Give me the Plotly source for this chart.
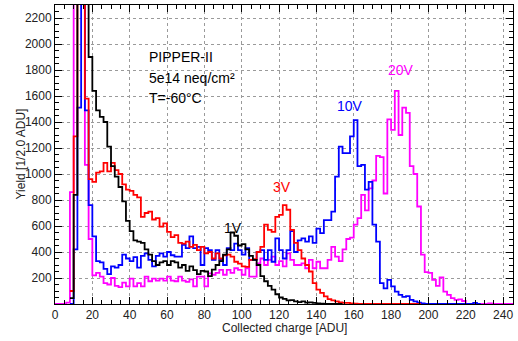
import plotly.graph_objects as go

## Data: histograms with 2 ADU bins, each list starts at its first bin edge

bin_width = 2

black_start = 8
black_1v = [45, 840, 3600, 4200, 3000, 1900, 1640, 1490, 1440, 1400, 1210, 1060,
            980, 900, 790, 640, 560, 490, 480, 470, 420, 380, 330, 300, 320, 330,
            300, 330, 320, 280, 300, 255, 290, 260, 230, 255, 250, 215, 265, 300,
            330, 380, 420, 550, 525, 450, 460, 420, 370, 340, 300, 215, 175, 140,
            110, 75, 50, 40, 28, 30, 20, 15, 20, 10, 12, 8, 5, 3, 0, 0, 0, 0, 0]

red_start = 8
red_3v = [100, 1290, 3500, 3800, 1580, 960, 940, 1010, 1020, 1085, 1020, 1085,
          1030, 1000, 920, 880, 870, 840, 820, 670, 700, 710, 650, 660, 595, 620,
          555, 515, 530, 470, 465, 480, 440, 455, 415, 440, 390, 400, 350, 390,
          350, 375, 380, 365, 325, 310, 290, 285, 340, 345, 400, 440, 610, 570,
          555, 670, 685, 760, 725, 570, 470, 415, 350, 300, 250, 160, 110, 85,
          58, 38, 28, 20, 13, 8, 8, 5, 3, 0, 0, 0, 0, 0, 0, 0, 0, 0, 0, 0, 0, 0, 0, 0, 0, 0]

blue_start = 8
blue_10v = [0, 420, 1510, 3200, 1490, 760, 520, 330, 320, 270, 230, 290, 280, 300,
            380, 350, 330, 360, 280, 370, 390, 340, 290, 370, 390, 365, 400, 375,
            365, 365, 455, 430, 520, 430, 440, 300, 430, 415, 340, 415, 340, 300,
            430, 415, 465, 415, 380, 430, 340, 340, 400, 415, 340, 415, 325, 505,
            415, 350, 415, 560, 400, 490, 505, 480, 520, 470, 580, 545, 645, 645,
            710, 980, 1210, 1160, 1160, 1290, 1415, 1060, 1070, 880, 940, 610, 480,
            160, 120, 185, 135, 95, 70, 55, 60, 32, 20, 10, 5, 0, 0, 0, 0, 0, 0, 0,
            0, 0, 0, 0, 0, 0, 8, 0]

magenta_start = 0
magenta_20v = [0, 0, 0, 10, 860, 3500, 3800, 3300, 1070, 500, 220, 240, 210, 160,
               150, 200, 140, 130, 165, 135, 195, 135, 160, 135, 210, 175, 195, 180,
               195, 180, 210, 180, 175, 210, 180, 170, 190, 135, 210, 210, 135, 236,
               225, 240, 262, 225, 262, 240, 275, 262, 225, 275, 210, 210, 313, 350,
               300, 340, 365, 300, 330, 290, 390, 340, 300, 300, 313, 275, 340, 275,
               325, 275, 275, 340, 440, 365, 330, 420, 500, 510, 610, 660, 840, 720,
               890, 950, 1140, 1130, 850, 1420, 1340, 1640, 1300, 1510, 1470, 1060,
               1000, 750, 380, 245, 240, 185, 140, 205, 95, 70, 45, 32, 36, 23, 0, 0,
               0, 0, 0, 0, 5, 0, 0, 0, 0, 0, 0]

x_ticks = list(range(0, 241, 20))
y_ticks = list(range(200, 2201, 200))

info_lines = ["PIPPER-II", "5e14 neq/cm²", "T=-60°C"]
info_y = [1900, 1738, 1585]

labels = ["1V", "3V", "10V", "20V"]
label_x = [95.5, 121.7, 158, 185.3]
label_y = [585, 900, 1523, 1800]
colors = ["black", "#ff0000", "#0000ff", "#ff00ff"]


def step_trace(start, values, color):
    edges = [start + bin_width * i for i in range(len(values) + 1)]
    return go.Scatter(x=edges, y=values + [values[-1]], mode="lines",
                      line=dict(color=color, width=1.8, shape="hv"),
                      showlegend=False, hoverinfo="skip")


def main():
    fig = go.Figure()
    # drawn back to front: magenta, blue, red, black
    fig.add_trace(step_trace(magenta_start, magenta_20v, colors[3]))
    fig.add_trace(step_trace(blue_start, blue_10v, colors[2]))
    fig.add_trace(step_trace(red_start, red_3v, colors[1]))
    fig.add_trace(step_trace(black_start, black_1v, colors[0]))

    axis_style = dict(showline=True, linecolor="black", linewidth=1, mirror="allticks",
                      ticks="inside", ticklen=7, tickcolor="black", tickwidth=1,
                      showgrid=True, gridcolor="#9a9a9a", griddash="dot", gridwidth=1,
                      zeroline=False, automargin=False,
                      tickfont=dict(size=12, color="#222"))

    fig.update_xaxes(range=[0, 245.3], tickvals=x_ticks,
                     minor=dict(dtick=5, ticks="inside", ticklen=4, tickcolor="black", showgrid=False),
                     **axis_style)
    fig.update_yaxes(range=[0, 2300], tickvals=y_ticks,
                     minor=dict(dtick=50, ticks="inside", ticklen=4, tickcolor="black", showgrid=False),
                     **axis_style)

    for txt, yv in zip(info_lines, info_y):
        fig.add_annotation(x=49.3, y=yv, text=txt, showarrow=False, xanchor="left",
                           yanchor="middle", font=dict(size=14, color="black"))
    for txt, xv, yv, c in zip(labels, label_x, label_y, colors):
        fig.add_annotation(x=xv, y=yv, text=txt, showarrow=False, xanchor="center",
                           yanchor="middle", font=dict(size=14, color=c))

    fig.add_annotation(x=0.5, y=-0.08, xref="paper", yref="paper", text="Collected charge [ADU]",
                       showarrow=False, xanchor="center", yanchor="middle",
                       font=dict(size=12, color="#222"))
    fig.add_annotation(x=-0.0764, y=0.5, xref="paper", yref="paper", text="Yield [1/2.0 ADU]",
                       textangle=-90, showarrow=False, xanchor="center", yanchor="middle",
                       font=dict(size=12, color="#222"))

    fig.update_layout(width=518, height=341, margin=dict(l=55, r=5, t=5, b=37),
                      plot_bgcolor="white", paper_bgcolor="white",
                      font=dict(family="Liberation Sans, Arial, sans-serif"))
    # page body has a default 8px margin; drop it so the figure sits at the corner
    fig.write_html("out.html", config={"displayModeBar": False},
                   post_script="document.body.style.margin='0px';")


if __name__ == "__main__":
    main()
